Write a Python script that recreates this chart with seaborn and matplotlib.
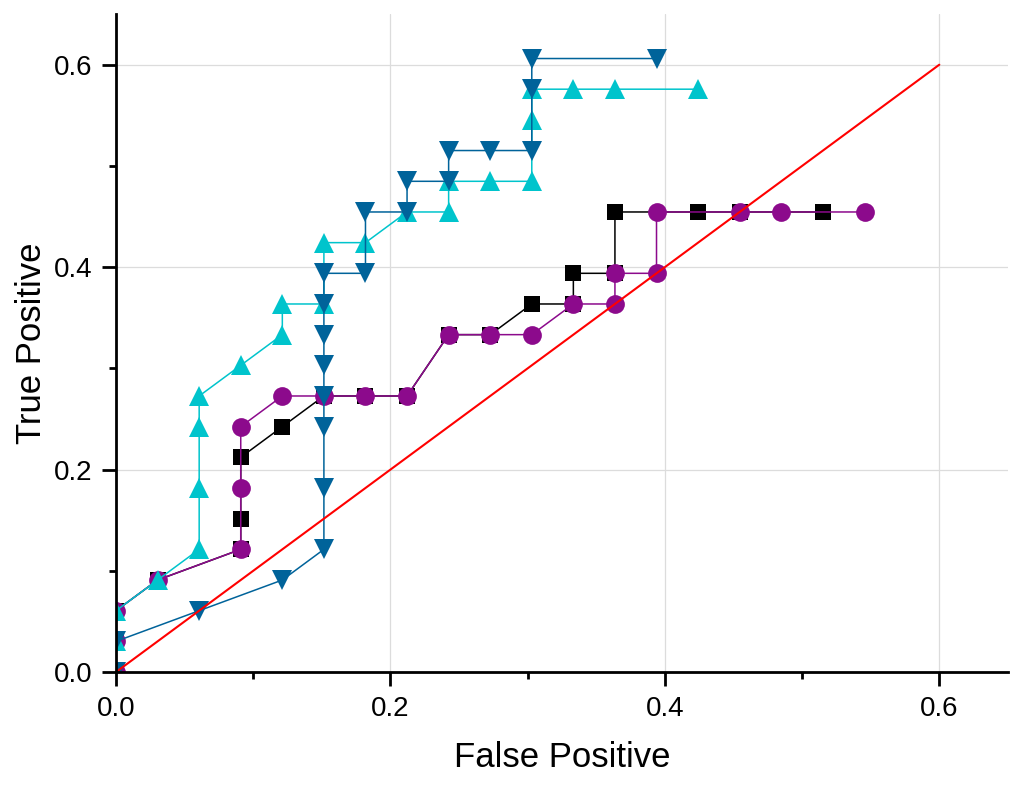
import matplotlib
matplotlib.use("Agg")
from matplotlib import pyplot as plt
from matplotlib.ticker import MultipleLocator
import seaborn as sns

# roc style curves
black_x = [0, 0, 0, 0.0303, 0.0909, 0.0909, 0.0909, 0.1212, 0.1515, 0.1818, 0.2121,
           0.2424, 0.2727, 0.3030, 0.3333, 0.3333, 0.3636, 0.3636, 0.4242, 0.4545, 0.5152]
black_y = [0, 0.0303, 0.0606, 0.0909, 0.1212, 0.1515, 0.2121, 0.2424, 0.2727, 0.2727, 0.2727,
           0.3333, 0.3333, 0.3636, 0.3636, 0.3939, 0.3939, 0.4545, 0.4545, 0.4545, 0.4545]

purple_x = [0, 0, 0, 0.0303, 0.0909, 0.0909, 0.0909, 0.1212, 0.1515, 0.1818, 0.2121,
            0.2424, 0.2727, 0.3030, 0.3333, 0.3636, 0.3636, 0.3939, 0.3939, 0.4545, 0.4848, 0.5455]
purple_y = [0, 0.0303, 0.0606, 0.0909, 0.1212, 0.1818, 0.2424, 0.2727, 0.2727, 0.2727, 0.2727,
            0.3333, 0.3333, 0.3333, 0.3636, 0.3636, 0.3939, 0.3939, 0.4545, 0.4545, 0.4545, 0.4545]

cyan_x = [0, 0, 0, 0.0303, 0.0606, 0.0606, 0.0606, 0.0606, 0.0909, 0.1212, 0.1212, 0.1515,
          0.1515, 0.1818, 0.2121, 0.2424, 0.2424, 0.2727, 0.3030, 0.3030, 0.3030, 0.3333, 0.3636, 0.4242]
cyan_y = [0, 0.0303, 0.0606, 0.0909, 0.1212, 0.1818, 0.2424, 0.2727, 0.3030, 0.3333, 0.3636, 0.3636,
          0.4242, 0.4242, 0.4545, 0.4545, 0.4848, 0.4848, 0.4848, 0.5455, 0.5758, 0.5758, 0.5758, 0.5758]

blue_x = [0, 0, 0.0606, 0.1212, 0.1515, 0.1515, 0.1515, 0.1515, 0.1515, 0.1515, 0.1515, 0.1515,
          0.1818, 0.1818, 0.2121, 0.2121, 0.2424, 0.2424, 0.2727, 0.3030, 0.3030, 0.3030, 0.3939]
blue_y = [0, 0.0303, 0.0606, 0.0909, 0.1212, 0.1818, 0.2424, 0.2727, 0.3030, 0.3333, 0.3636, 0.3939,
          0.3939, 0.4545, 0.4545, 0.4848, 0.4848, 0.5152, 0.5152, 0.5152, 0.5758, 0.6061, 0.6061]

diag_x = [0, 0.6]
diag_y = [0, 0.6]

sns.set_style("white")
plt.rcParams["font.family"] = ["Liberation Sans", "DejaVu Sans"]
plt.rcParams["text.color"] = "black"
plt.rcParams["axes.labelcolor"] = "black"
plt.rcParams["xtick.color"] = "black"
plt.rcParams["ytick.color"] = "black"

fig = plt.figure(figsize=(10.24, 7.87), dpi=100)
ax = fig.add_axes([0.1133, 0.1461, 0.871, 0.836])

common = dict(sort=False, estimator=None, ax=ax, linewidth=1.1, markeredgewidth=0)
sns.lineplot(x=black_x, y=black_y, color="black", marker="s", markersize=11, **common)
sns.lineplot(x=purple_x, y=purple_y, color="#8c0a8c", marker="o", markersize=13.5, **common)
sns.lineplot(x=cyan_x, y=cyan_y, color="#00c4cc", marker="^", markersize=14.5, **common)
sns.lineplot(x=blue_x, y=blue_y, color="#00639a", marker="v", markersize=14.5, **common)
sns.lineplot(x=diag_x, y=diag_y, color="red", linewidth=1.5, sort=False, estimator=None, ax=ax)

ax.set_xlim(0, 0.65)
ax.set_ylim(0, 0.65)
ax.xaxis.set_minor_locator(MultipleLocator(0.1))
ax.yaxis.set_minor_locator(MultipleLocator(0.1))
ax.set_xticks([0, 0.2, 0.4, 0.6])
ax.set_xticklabels(["0.0", "0.2", "0.4", "0.6"])
ax.set_yticks([0, 0.2, 0.4, 0.6])
ax.set_yticklabels(["0.0", "0.2", "0.4", "0.6"])
ax.grid(True, which="major", color="#dcdcdc", linewidth=0.9)
ax.set_axisbelow(True)

for side in ["top", "right"]:
    ax.spines[side].set_visible(False)
for side in ["left", "bottom"]:
    ax.spines[side].set_linewidth(2.0)
    ax.spines[side].set_color("black")

ax.tick_params(which="major", direction="out", length=10, width=2, color="black",
               labelsize=20, pad=7, bottom=True, left=True, labelcolor="black")
ax.tick_params(which="minor", direction="out", length=5, width=2, color="black",
               bottom=True, left=True)

ax.set_xlabel("False Positive", fontsize=25, labelpad=14)
ax.set_ylabel("True Positive", fontsize=25, labelpad=4)

fig.savefig("out.png", dpi=100)
